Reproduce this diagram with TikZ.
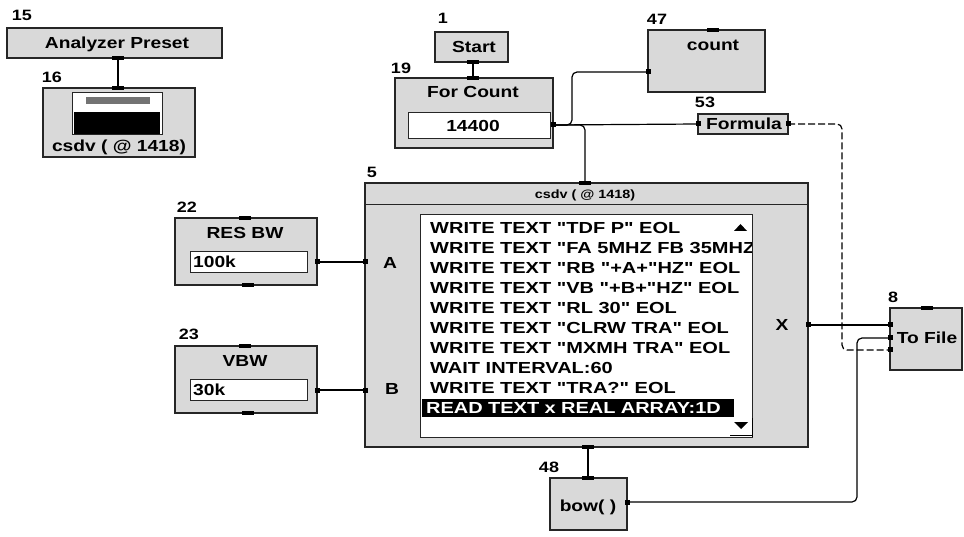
\documentclass[tikz,border=0pt]{standalone}
\usepackage{fontspec}
\setmainfont{Liberation Sans}
\newfontfamily\vf[FakeStretch=1.2]{Liberation Sans}
\newfontfamily\lf[FakeStretch=1.25]{Liberation Sans}
\begin{document}
\begin{tikzpicture}[x=1pt,y=-1pt,
  box/.style={draw=black!85,line width=1.2pt,fill=gray!30,inner sep=0pt},
  field/.style={draw=black!85,line width=1pt,fill=white,inner sep=0pt},
  txt/.style={font=\vf\bfseries\fontsize{16}{18}\selectfont,inner sep=0pt},
  num/.style={font=\vf\bfseries\fontsize{15}{17}\selectfont,inner sep=0pt},
  small/.style={font=\vf\bfseries\fontsize{12}{14}\selectfont,inner sep=0pt},
  listtxt/.style={font=\lf\bfseries\fontsize{16}{18}\selectfont,anchor=west,inner sep=0pt},
  pinsq/.style={fill=black,minimum size=5pt,inner sep=0pt},
  seqpin/.style={fill=black,minimum width=12pt,minimum height=3.5pt,inner sep=0pt},
  wire/.style={line width=1.2pt,draw=black},
  dwire/.style={wire,dash pattern=on 7pt off 3pt},
]
\useasboundingbox (0,0) rectangle (964,537);

% ---- 15 Analyzer Preset
\node[num] (n15) at (22,15) {15};
\node[box,minimum width=215pt,minimum height=30pt] (ap) at (114.5,43) {};
\node[txt] (apt) at (117,44) {Analyzer Preset};

% ---- 16
\node[num] (n16) at (52,77) {16};
\node[box,minimum width=152pt,minimum height=69pt] (b16) at (119,122.5) {};
\node[field,minimum width=90pt,minimum height=42pt] (b16f) at (117,114) {};
\fill[black!55] (86,97) rectangle (150,104);
\node[fill=black,minimum width=86pt,minimum height=22pt,inner sep=0pt] (b16s) at (117,123) {};
\node[txt] (b16t) at (119,147) {csdv ( @ 1418)};
\node[seqpin] (aps) at (118,58) {};
\node[seqpin] (b16n) at (118,88) {};
\draw[wire] (aps.center) -- (b16n.center);

% ---- 1 Start, 19 For Count
\node[num] (n1) at (443,18) {1};
\node[box,minimum width=73pt,minimum height=30pt] (start) at (471.5,47) {};
\node[txt] (startt) at (474,47) {Start};
\node[num] (n19) at (401,68) {19};
\node[box,minimum width=158pt,minimum height=70pt] (fc) at (474,113) {};
\node[txt] (fct) at (473,92) {For Count};
\node[field,minimum width=142pt,minimum height=26pt] (fcf) at (479,126) {};
\node[txt] (fcv) at (473,126) {14400};
\node[seqpin] (starts) at (473,62) {};
\node[seqpin] (fcn) at (473,78) {};
\draw[wire] (starts.center) -- (fcn.center);
\node[pinsq] (fcout) at (553,125) {};

% ---- 47 count
\node[num] (n47) at (657,19) {47};
\node[box,minimum width=117pt,minimum height=62pt] (count) at (706.5,61) {};
\node[txt] (countt) at (713,45) {count};
\node[seqpin] (countn) at (713,30) {};
\node[pinsq] (countin) at (648,72) {};

% ---- 53 Formula
\node[num] (n53) at (705,102) {53};
\node[box,minimum width=90pt,minimum height=20pt] (formula) at (743,124) {};
\node[txt] (formt) at (744,124) {Formula};
\node[pinsq] (formin) at (698,124) {};
\node[pinsq] (formout) at (788,124) {};

% ---- 5 csdv
\node[num] (n5) at (372,172) {5};
\node[box,minimum width=443pt,minimum height=264pt] (csdv) at (586.5,315) {};
\draw[black!85,line width=1pt] (365,205) -- (808,205);
\node[small] (csdvt) at (585,195) {csdv ( @ 1418)};
\node[field,minimum width=332pt,minimum height=222pt] (list) at (586,326) {};
\begin{scope}
\clip (421,216) rectangle (751,436);
\node[listtxt] (l0) at (430,228) {WRITE TEXT "TDF P" EOL};
\node[listtxt] (l1) at (430,248) {WRITE TEXT "FA 5MHZ FB 35MHZ" EOL};
\node[listtxt] (l2) at (430,268) {WRITE TEXT "RB "+A+"HZ" EOL};
\node[listtxt] (l3) at (430,288) {WRITE TEXT "VB "+B+"HZ" EOL};
\node[listtxt] (l4) at (430,308) {WRITE TEXT "RL 30" EOL};
\node[listtxt] (l5) at (430,328) {WRITE TEXT "CLRW TRA" EOL};
\node[listtxt] (l6) at (430,348) {WRITE TEXT "MXMH TRA" EOL};
\node[listtxt] (l7) at (430,368) {WAIT INTERVAL:60};
\node[listtxt] (l8) at (430,388) {WRITE TEXT "TRA?" EOL};
\node[fill=black,text=white,anchor=west,text width=304pt,inner xsep=4pt,inner ysep=0pt,
      minimum height=18pt,align=left,font=\lf\bfseries\fontsize{16}{18}\selectfont] (l9) at (422,408) {READ TEXT x REAL ARRAY:1D};
\end{scope}
% scroll arrows
\fill[black] (734,231) -- (747,231) -- (740.5,224) -- cycle;
\fill[black] (734,422) -- (748,422) -- (741,429) -- cycle;
\draw[black,line width=1pt] (730,435) -- (752,435) (752,418) -- (752,437);
\node[txt] (la) at (390,263) {A};
\node[txt] (lb) at (392,389) {B};
\node[txt] (lx) at (782,325) {X};
\node[seqpin] (csdvn) at (585,183) {};
\node[seqpin] (csdvs) at (588,447) {};
\node[pinsq] (ain) at (365,262) {};
\node[pinsq] (bin) at (365,390) {};
\node[pinsq] (xout) at (808,325) {};

% ---- 22 RES BW
\node[num] (n22) at (187,207) {22};
\node[box,minimum width=142pt,minimum height=67pt] (resbw) at (246,251.5) {};
\node[txt] (resbwt) at (245,233) {RES BW};
\node[field,minimum width=117pt,minimum height=21pt] (resbwf) at (248.5,262) {};
\node[txt,anchor=west] (resbwv) at (193,262) {100k};
\node[seqpin] (resbwn) at (245,218) {};
\node[seqpin] (resbws) at (248,285) {};
\node[pinsq] (resbwout) at (317,262) {};

% ---- 23 VBW
\node[num] (n23) at (189,334) {23};
\node[box,minimum width=142pt,minimum height=67pt] (vbw) at (246,379.5) {};
\node[txt] (vbwt) at (245,361) {VBW};
\node[field,minimum width=117pt,minimum height=21pt] (vbwf) at (248.5,390) {};
\node[txt,anchor=west] (vbwv) at (193,390) {30k};
\node[seqpin] (vbwn) at (245,346) {};
\node[seqpin] (vbws) at (248,413) {};
\node[pinsq] (vbwout) at (317,390) {};

% ---- 8 To File
\node[num] (n8) at (893,297) {8};
\node[box,minimum width=72pt,minimum height=62pt] (tofile) at (926,339) {};
\node[txt] (tofilet) at (927,338) {To File};
\node[seqpin] (tofilen) at (927,308) {};
\node[pinsq] (tfin1) at (890,325) {};
\node[pinsq] (tfin2) at (890,338) {};
\node[pinsq] (tfin3) at (890,350) {};

% ---- 48 bow
\node[num] (n48) at (549,467) {48};
\node[box,minimum width=77pt,minimum height=52pt] (bow) at (588.5,504) {};
\node[txt] (bowt) at (588,507) {bow( )};
\node[seqpin] (bown) at (588,478) {};
\node[pinsq] (bowout) at (627,502) {};

% ---- connectors
\draw[wire] (resbwout.center) -- (ain.center);
\draw[wire] (vbwout.center) -- (bin.center);
\draw[wire,rounded corners=5pt] (fcout.center) -- (572,125) -- (572,72) -- (countin.center);
\draw[wire,rounded corners=5pt] (fcout.center) -| (csdvn.center);
\draw[wire] (fcout.center) -- (formin.center);
\draw[dwire,rounded corners=5pt] (formout.center) -- (842,124) -- (842,350) -- (tfin3.center);
\draw[wire] (xout.center) -- (tfin1.center);
\draw[wire,rounded corners=5pt] (bowout.center) -- (857,502) -- (857,338) -- (tfin2.center);
\draw[wire] (csdvs.center) -- (bown.center);
\end{tikzpicture}
\end{document}
